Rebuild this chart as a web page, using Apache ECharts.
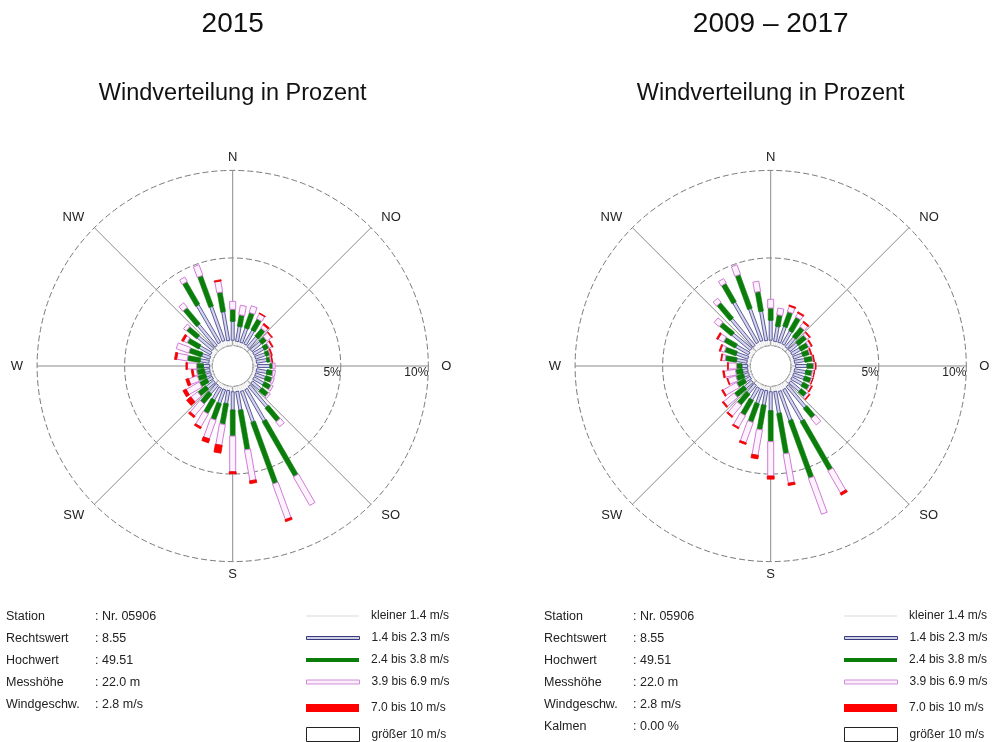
<!DOCTYPE html>
<html>
<head>
<meta charset="utf-8">
<script src="https://cdn.jsdelivr.net/npm/echarts@6/dist/echarts.min.js"></script>
<style>
html,body{margin:0;padding:0;background:#ffffff;}
#chart{width:993px;height:742px;}
</style>
</head>
<body>
<div id="chart"></div>
<script>
// ---------------- data ----------------
const directions = [0,10,20,30,40,50,60,70,80,90,100,110,120,130,140,150,160,170,180,190,200,210,220,230,240,250,260,270,280,290,300,310,320,330,340,350];
const compassNames = ['N','NO','O','SO','S','SW','W','NW'];
const compassAngles = [0,45,90,135,180,225,270,315];
const radiusTicks = [0,5,10];
const classNames = ['kleiner 1.4 m/s','1.4 bis 2.3 m/s','2.4 bis 3.8 m/s','3.9 bis 6.9 m/s','7.0 bis 10 m/s','größer 10 m/s'];

// 2015, percent per direction and speed class
const y2015_lt14   = [0.30,0.25,0.25,0.25,0.20,0.20,0.20,0.20,0.20,0.25,0.20,0.20,0.20,0.25,0.30,0.35,0.35,0.30,0.30,0.25,0.25,0.25,0.20,0.20,0.15,0.15,0.15,0.15,0.20,0.20,0.25,0.30,0.30,0.35,0.35,0.30];
const y2015_14_23  = [1.08,0.86,0.87,0.90,0.75,0.70,0.65,0.60,0.60,0.70,0.60,0.60,0.65,0.65,1.56,2.08,1.87,1.08,1.04,0.75,0.83,0.78,0.63,0.53,0.32,0.30,0.30,0.35,0.51,0.49,0.75,1.11,1.58,2.48,2.08,1.67];
const y2015_24_38  = [0.69,0.67,0.91,0.71,0.58,0.35,0.30,0.25,0.20,0.17,0.34,0.38,0.43,0.48,1.01,3.62,3.73,2.29,1.49,1.20,0.99,0.87,0.71,0.59,0.48,0.47,0.45,0.39,0.73,0.76,0.75,0.74,1.18,1.48,1.85,1.13];
const y2015_39_69  = [0.45,0.54,0.40,0.32,0.22,0.33,0.17,0.07,0.08,0.13,0.14,0.12,0.12,0.12,0.34,1.88,2.15,1.79,2.04,1.20,1.13,0.85,0.86,0.48,0.85,0.53,0.20,0.53,0.61,0.75,0.22,0.20,0.34,0.29,0.64,0.63];
const y2015_70_10  = [0.00,0.00,0.00,0.04,0.09,0.05,0.06,0.05,0.04,0.00,0.00,0.00,0.00,0.00,0.00,0.00,0.12,0.16,0.12,0.45,0.23,0.11,0.12,0.30,0.20,0.16,0.10,0.08,0.12,0.00,0.12,0.00,0.00,0.00,0.00,0.07];
const y2015_gt10   = [0,0,0,0,0,0,0,0,0,0,0,0,0,0,0,0,0,0,0,0,0,0,0,0,0,0,0,0,0,0,0,0,0,0,0,0];

// 2009 - 2017
const y0917_lt14   = [0.30,0.25,0.25,0.25,0.20,0.20,0.20,0.20,0.20,0.25,0.20,0.20,0.20,0.25,0.30,0.35,0.35,0.30,0.30,0.25,0.25,0.25,0.20,0.20,0.15,0.15,0.15,0.15,0.20,0.20,0.25,0.30,0.30,0.35,0.35,0.30];
const y0917_14_23  = [1.14,0.86,0.96,0.85,0.72,0.60,0.55,0.55,0.60,0.65,0.65,0.65,0.70,0.75,1.59,2.08,1.77,1.27,1.08,0.84,0.84,0.78,0.63,0.53,0.35,0.30,0.30,0.32,0.60,0.70,0.85,1.35,2.00,2.65,1.95,1.70];
const y0917_24_38  = [0.70,0.67,0.87,0.87,0.71,0.60,0.50,0.40,0.45,0.38,0.37,0.40,0.40,0.40,0.72,3.22,3.48,2.33,1.77,1.42,1.12,0.98,0.80,0.70,0.50,0.45,0.40,0.32,0.65,0.69,0.75,0.88,1.14,1.20,2.04,1.13];
const y0917_39_69  = [0.50,0.38,0.32,0.25,0.29,0.17,0.15,0.07,0.05,0.10,0.11,0.08,0.12,0.15,0.47,1.45,2.18,1.70,1.96,1.47,1.22,0.77,0.79,0.77,0.87,0.48,0.65,0.46,0.20,0.23,0.35,0.37,0.30,0.30,0.58,0.59];
const y0917_70_10  = [0.00,0.00,0.07,0.07,0.08,0.06,0.06,0.05,0.04,0.04,0.02,0.02,0.05,0.05,0.00,0.14,0.00,0.13,0.18,0.20,0.10,0.08,0.08,0.08,0.08,0.05,0.08,0.05,0.05,0.07,0.09,0.00,0.00,0.00,0.00,0.00];
const y0917_gt10   = [0,0,0,0,0,0,0,0,0,0,0,0,0,0,0,0,0,0,0,0,0,0,0,0,0,0,0,0,0,0,0,0,0,0,0,0];

const stationLabels2015 = ['Station','Rechtswert','Hochwert','Messhöhe','Windgeschw.'];
const stationValues2015 = [': Nr. 05906',': 8.55',': 49.51',': 22.0 m',': 2.8 m/s'];
const stationLabels0917 = ['Station','Rechtswert','Hochwert','Messhöhe','Windgeschw.','Kalmen'];
const stationValues0917 = [': Nr. 05906',': 8.55',': 49.51',': 22.0 m',': 2.8 m/s',': 0.00 %'];

// ---------------- styling ----------------
const FONT = '"Liberation Sans", Arial, Helvetica, sans-serif';
const classStyle = [
  {w:2, fill:'rgba(255,255,255,0)', stroke:'#dedede', lw:0.8, legendH:2, lfill:'#ececec', lborder:'#ececec', lbw:0},
  {w:3, fill:'#d4d4ea', stroke:'#3a3a86', lw:0.8, legendH:3, lfill:'#cfd0e4', lborder:'#3a3a80', lbw:1},
  {w:5, fill:'#0a7d0a', stroke:'#0a7d0a', lw:0.5, legendH:4, lfill:'#0a7d0a', lborder:'#0a7d0a', lbw:0},
  {w:6, fill:'#fcf3fc', stroke:'#d17cd8', lw:1, legendH:4, lfill:'#fbeefb', lborder:'#cf8fd8', lbw:1},
  {w:7, fill:'#ff0000', stroke:'#e80000', lw:0.8, legendH:8, lfill:'#ff0000', lborder:'#ff0000', lbw:0},
  {w:7, fill:'#ffffff', stroke:'#000000', lw:1, legendH:14, lfill:'#ffffff', lborder:'#222222', lbw:1}
];
const legendRowsY = [615, 637, 659, 681, 707, 734];

const charts = [
  {title:'2015', off:0, classes:[y2015_lt14,y2015_14_23,y2015_24_38,y2015_39_69,y2015_70_10,y2015_gt10], labels:stationLabels2015, values:stationValues2015},
  {title:'2009 – 2017', off:538, classes:[y0917_lt14,y0917_14_23,y0917_24_38,y0917_39_69,y0917_70_10,y0917_gt10], labels:stationLabels0917, values:stationValues0917}
];

function toPolarAngle(compass){ return (compass - 90 + 360) % 360; }

function makeRender(st){
  return function(params, api){
    const r0 = api.value(2), r1 = api.value(0), a = api.value(1);
    if (!(r1 - r0 > 0)) return {type:'group', children:[]};
    const p0 = api.coord([r0, a]), p1 = api.coord([r1, a]);
    const q0 = api.coord([0, a]), q1 = api.coord([10, a]);
    let ux = q1[0]-q0[0], uy = q1[1]-q0[1];
    const L = Math.sqrt(ux*ux+uy*uy); ux/=L; uy/=L;
    const nx = -uy*st.w/2, ny = ux*st.w/2;
    return {
      type:'polygon',
      shape:{points:[[p0[0]+nx,p0[1]+ny],[p1[0]+nx,p1[1]+ny],[p1[0]-nx,p1[1]-ny],[p0[0]-nx,p0[1]-ny]]},
      style:{fill:st.fill, stroke:st.stroke, lineWidth:st.lw}
    };
  };
}

const labelBase = {fontSize:13, color:'#222', fontFamily:FONT};
const compassRich = {
  c: Object.assign({}, labelBase),
  e: Object.assign({padding:[0,0,0,7]}, labelBase),
  w: Object.assign({padding:[0,8,0,0]}, labelBase),
  de: Object.assign({padding:[0,0,0,6]}, labelBase),
  dw: Object.assign({padding:[0,6,0,0]}, labelBase)
};
const compassRichKey = {N:'c', S:'c', O:'e', W:'w', NO:'de', SO:'de', NW:'dw', SW:'dw'};

const polar = [], angleAxis = [], radiusAxis = [], series = [], title = [], legend = [];

charts.forEach((ch, k) => {
  const cx = 232.7 + ch.off;
  polar.push({center:[cx, 366], radius:[20.5, 195.6]});
  angleAxis.push({
    polarIndex:k, type:'value', min:0, max:360, interval:45, startAngle:0, clockwise:true,
    axisLine:{show:false}, axisTick:{show:false},
    splitLine:{show:true, lineStyle:{color:'#8a8a8a', width:1, type:'solid'}},
    axisLabel:{
      show:true, margin:6, color:'#222', fontSize:13, fontFamily:FONT, rich:compassRich,
      formatter:function(v){
        if (v >= 360) return '';
        const c = (v + 90) % 360; const i = compassAngles.indexOf(c);
        if (i < 0) return '';
        const nm = compassNames[i];
        return '{' + compassRichKey[nm] + '|' + nm + '}';
      }
    }
  });
  radiusAxis.push({
    polarIndex:k, type:'value', min:radiusTicks[0], max:radiusTicks[2], interval:radiusTicks[1],
    axisLine:{show:false}, axisTick:{show:false},
    splitLine:{show:true, lineStyle:{color:'#7a7a7a', width:1, type:[6,3]}},
    axisLabel:{show:true, align:'right', verticalAlign:'top', margin:-1, color:'#222', fontSize:12, fontFamily:FONT,
      formatter:function(v){ return v === 0 ? '' : v + '%'; }}
  });
  // stacked segments
  const cum = directions.map(() => 0);
  ch.classes.forEach((arr, c) => {
    const data = directions.map((d, i) => {
      const start = cum[i];
      const end = start + arr[i];
      cum[i] = end;
      return [end, toPolarAngle(d), start];
    });
    series.push({
      type:'custom', name:classNames[c], coordinateSystem:'polar', polarIndex:k,
      encode:{radius:0, angle:1},
      renderItem:makeRender(classStyle[c]),
      data:data, silent:true, z:2
    });
  });
  // titles
  title.push({text:ch.title, left:cx, top:10, textAlign:'center', padding:0,
    textStyle:{fontSize:28, fontWeight:'normal', color:'#111', fontFamily:FONT}});
  title.push({text:'Windverteilung in Prozent', left:cx, top:82, textAlign:'center', padding:0,
    textStyle:{fontSize:23.5, fontWeight:'normal', color:'#111', fontFamily:FONT}});
  title.push({text:ch.labels.join('\n'), left:6 + ch.off, top:606, padding:0,
    textStyle:{fontSize:12.5, fontWeight:'normal', color:'#222', lineHeight:22, fontFamily:FONT}});
  title.push({text:ch.values.join('\n'), left:95 + ch.off, top:606, padding:0,
    textStyle:{fontSize:12.5, fontWeight:'normal', color:'#222', lineHeight:22, fontFamily:FONT}});
  // legend rows
  classNames.forEach((nm, c) => {
    const st = classStyle[c];
    legend.push({
      left:306 + ch.off, top:legendRowsY[c] - Math.max(st.legendH, 10)/2, padding:0, orient:'vertical',
      itemWidth:53, itemHeight:st.legendH, selectedMode:false, icon:'rect',
      itemStyle:{color:st.lfill, borderColor:st.lborder, borderWidth:st.lbw},
      textStyle:{fontSize:12, color:'#222', fontFamily:FONT, padding:[0,0,0,7]},
      data:[{name:nm, icon:'rect', itemStyle:{color:st.lfill, borderColor:st.lborder, borderWidth:st.lbw}}]
    });
  });
});

// solid inner (calm) circle for each rose: an extra polar whose outer edge is the calm radius
charts.forEach((ch, k) => {
  const idx = polar.length;
  polar.push({center:[232.7 + ch.off, 366], radius:[0, 20.5]});
  angleAxis.push({polarIndex:idx, type:'value', min:0, max:360, startAngle:0,
    axisLine:{show:true, lineStyle:{color:'#8a8a8a', width:1}}, axisTick:{show:false},
    axisLabel:{show:false}, splitLine:{show:false}});
  radiusAxis.push({polarIndex:idx, type:'value', min:0, max:1, axisLine:{show:false}, axisTick:{show:false},
    axisLabel:{show:false}, splitLine:{show:false}});
});

const chart = echarts.init(document.getElementById('chart'), null, {renderer:'canvas'});
chart.setOption({
  backgroundColor:'#ffffff',
  animation:false,
  title:title, legend:legend, polar:polar, angleAxis:angleAxis, radiusAxis:radiusAxis, series:series
});
</script>
</body>
</html>
